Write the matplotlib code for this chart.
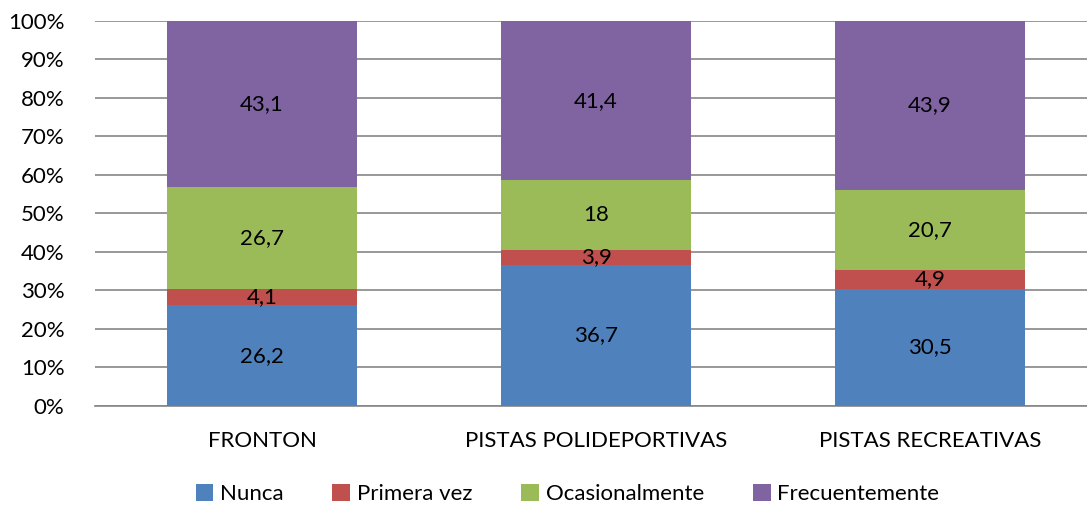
import numpy as np
import matplotlib.pyplot as plt
from matplotlib.ticker import FuncFormatter

plt.rcParams['font.family'] = ['Lato', 'DejaVu Sans']

categories = ['FRONTON', 'PISTAS POLIDEPORTIVAS', 'PISTAS RECREATIVAS']
series_names = ['Nunca', 'Primera vez', 'Ocasionalmente', 'Frecuentemente']
nunca = [26.2, 36.7, 30.5]
primera_vez = [4.1, 3.9, 4.9]
ocasionalmente = [26.7, 18, 20.7]
frecuentemente = [43.1, 41.4, 43.9]
colors = ['#4F81BD', '#C0504D', '#9BBB59', '#8064A2']

data = np.array([nunca, primera_vez, ocasionalmente, frecuentemente])
totals = data.sum(axis=0)
pct = data / totals * 100

fig = plt.figure(figsize=(10.87, 5.08), dpi=100)
ax = fig.add_axes([0.0874, 0.2008, 0.9218, 0.7579])

x = np.arange(len(categories))
bottom = np.zeros(len(categories))
for i, name in enumerate(series_names):
    bars = ax.bar(x, pct[i], 0.569, bottom=bottom, color=colors[i], label=name, zorder=3)
    for j, b in enumerate(bars):
        label = ('%g' % data[i][j]).replace('.', ',')
        ax.text(b.get_x() + b.get_width() / 2, bottom[j] + pct[i][j] / 2, label,
                ha='center', va='center', fontsize=16, color='black', zorder=4)
    bottom += pct[i]

ax.set_xlim(-0.5, 2.5)
ax.set_ylim(0, 100)
ax.set_yticks(np.arange(0, 101, 10))
ax.yaxis.set_major_formatter(FuncFormatter(lambda v, p: '%d%%' % v))
ax.set_xticks(x)
ax.set_xticklabels(categories)
ax.grid(axis='y', color='#868686', linewidth=1.2, zorder=0)
for s in ['top', 'right', 'left']:
    ax.spines[s].set_visible(False)
ax.spines['bottom'].set_color('#868686')
ax.spines['bottom'].set_linewidth(1.2)
ax.tick_params(axis='y', length=0, labelsize=16, pad=22)
ax.tick_params(axis='x', length=0, labelsize=16, pad=18)

fig.legend(loc='center', bbox_to_anchor=(0.522, 0.028), ncol=4, frameon=False,
           fontsize=16, handlelength=0.8, handleheight=0.8, handletextpad=0.3,
           columnspacing=2.2, borderpad=0)

fig.savefig('out.png', dpi=100)
